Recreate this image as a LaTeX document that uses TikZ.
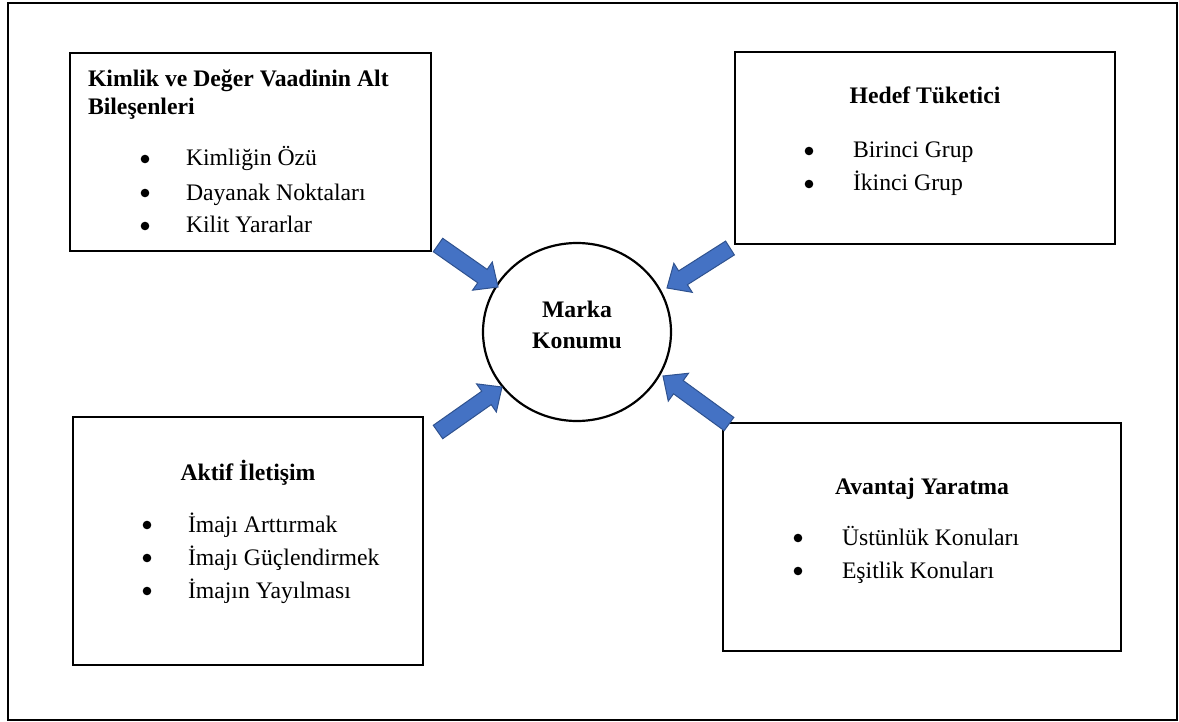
\documentclass[tikz,border=0pt]{standalone}
\usepackage{fontspec}
\setmainfont{Liberation Serif}
\usetikzlibrary{calc,shapes.geometric}
\definecolor{afill}{HTML}{4472C4}
\definecolor{aline}{HTML}{2F528F}
\newcommand{\blockarrow}[2]{%
  \coordinate (hb) at ($(#2)!9.5pt!(#1)$);
  \filldraw[barrow] ($(#1)!4.1pt!90:(#2)$) -- ($(hb)!4.1pt!90:(#2)$) -- ($(hb)!8.6pt!90:(#2)$) -- (#2) -- ($(hb)!8.6pt!-90:(#2)$) -- ($(hb)!4.1pt!-90:(#2)$) -- ($(#1)!4.1pt!-90:(#2)$) -- cycle;}
\begin{document}
\begin{tikzpicture}[x=0.5pt,y=-0.5pt,
  every node/.style={font=\fontsize{11.85}{14}\selectfont, inner sep=0pt, outer sep=0pt},
  box/.style={draw, line width=1.4pt, rectangle},
  ttl/.style={font=\fontsize{11.85}{14}\selectfont\bfseries},
  itm/.style={anchor=base west},
  bul/.style={circle, fill=black, minimum size=4.3pt},
  barrow/.style={fill=afill, draw=aline, line width=0.5pt, line join=miter}]
\useasboundingbox (0,0) rectangle (1179,722);
\draw[line width=0.8pt] (8,3) rectangle (1177,720);

% boxes
\node[box, minimum width=180.5pt, minimum height=99pt] (b1) at (250.5,152) {};
\node[box, minimum width=190pt, minimum height=96pt] (b2) at (925,148) {};
\node[box, minimum width=175pt, minimum height=124pt] (b3) at (248,541) {};
\node[box, minimum width=199pt, minimum height=114pt] (b4) at (922,537) {};
\node[draw, ellipse, line width=1.1pt, minimum width=94pt, minimum height=89pt] (c) at (577,332) {};

% box 1 text
\node[ttl, anchor=base west] (t1a) at (88,87) {Kimlik ve Değer Vaadinin Alt};
\node[ttl, anchor=base west] (t1b) at (88,115) {Bileşenleri};
\node[bul] (d1a) at (145,159) {};
\node[bul] (d1b) at (145,193) {};
\node[bul] (d1c) at (145,226) {};
\node[itm] (i1a) at (186,166) {Kimliğin Özü};
\node[itm] (i1b) at (186,200) {Dayanak Noktaları};
\node[itm] (i1c) at (186,233) {Kilit Yararlar};

% box 2 text
\node[ttl, anchor=base] (t2) at (925,104) {Hedef Tüketici};
\node[bul] (d2a) at (809,151) {};
\node[bul] (d2b) at (809,184) {};
\node[itm] (i2a) at (853,158) {Birinci Grup};
\node[itm] (i2b) at (853,191) {İkinci Grup};

% box 3 text
\node[ttl, anchor=base] (t3) at (248,480) {Aktif İletişim};
\node[bul] (d3a) at (147,525) {};
\node[bul] (d3b) at (147,558) {};
\node[bul] (d3c) at (147,591) {};
\node[itm] (i3a) at (188,532) {İmajı Arttırmak};
\node[itm] (i3b) at (188,565) {İmajı Güçlendirmek};
\node[itm] (i3c) at (188,598) {İmajın Yayılması};

% box 4 text
\node[ttl, anchor=base] (t4) at (922,494) {Avantaj Yaratma};
\node[bul] (d4a) at (798,538) {};
\node[bul] (d4b) at (798,571) {};
\node[itm] (i4a) at (842,545) {Üstünlük Konuları};
\node[itm] (i4b) at (842,578) {Eşitlik Konuları};

% centre text
\node[ttl, anchor=base] (m1) at (577,317) {Marka};
\node[ttl, anchor=base] (m2) at (577,348) {Konumu};

% arrows
\coordinate (a1t) at (438,245); \coordinate (a1h) at (498,287);
\coordinate (a2t) at (730,248);   \coordinate (a2h) at (667,288);
\coordinate (a3t) at (438,432); \coordinate (a3h) at (502,387);
\coordinate (a4t) at (729,424); \coordinate (a4h) at (663,376);
\blockarrow{a1t}{a1h}
\blockarrow{a2t}{a2h}
\blockarrow{a3t}{a3h}
\blockarrow{a4t}{a4h}
\end{tikzpicture}
\end{document}
